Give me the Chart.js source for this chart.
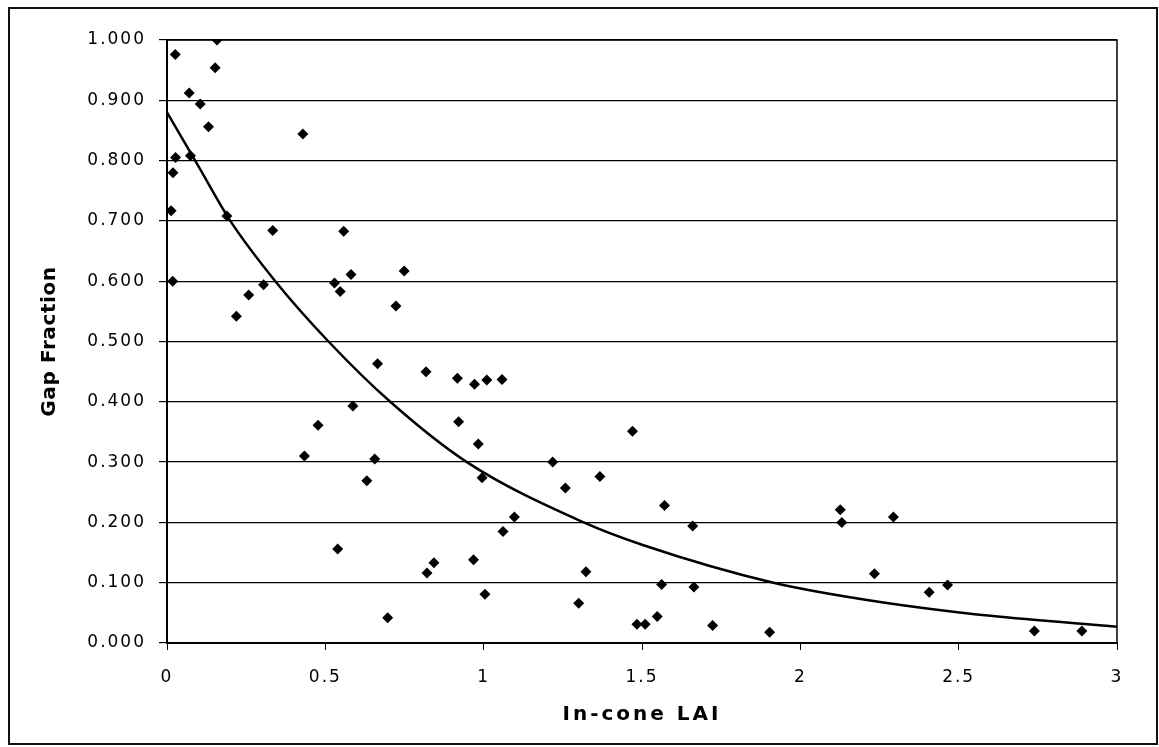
<!DOCTYPE html>
<html>
<head>
<meta charset="utf-8">
<script src="https://cdn.jsdelivr.net/npm/chart.js@4.4.1/dist/chart.umd.min.js"></script>
<style>
  html, body { margin: 0; padding: 0; background: #fff; }
  canvas { display: block; }
</style>
</head>
<body>
<canvas id="gap" width="1159" height="747"></canvas>
<script>
// Measured in-cone LAI vs gap fraction
const laiValues = [
  0.026, 0.158, 0.152, 0.070, 0.105, 0.131, 0.429, 0.027, 0.074, 0.019,
  0.013, 0.189, 0.334, 0.558, 0.018, 0.581, 0.749, 0.305, 0.258, 0.529,
  0.547, 0.723, 0.219, 0.665, 0.818, 0.917, 0.587, 0.477, 0.921, 0.434,
  0.656, 0.631, 0.539, 0.843, 0.821, 0.971, 1.010, 1.058, 0.983, 1.470,
  1.218, 0.995, 1.367, 1.258, 1.571, 1.097, 1.660, 1.061, 0.968, 1.323,
  1.562, 1.664, 1.004, 0.697, 1.300, 2.126, 2.131, 2.294, 2.234, 2.407,
  2.465, 1.484, 1.510, 1.548, 1.723, 1.903, 2.739, 2.889
];
const gapValues = [
  0.976, 1.000, 0.954, 0.912, 0.894, 0.856, 0.844, 0.805, 0.808, 0.780,
  0.717, 0.708, 0.684, 0.683, 0.600, 0.611, 0.617, 0.594, 0.577, 0.597,
  0.583, 0.559, 0.542, 0.463, 0.450, 0.439, 0.393, 0.361, 0.367, 0.310,
  0.305, 0.269, 0.156, 0.133, 0.116, 0.429, 0.436, 0.437, 0.330, 0.351,
  0.300, 0.274, 0.276, 0.257, 0.228, 0.209, 0.194, 0.185, 0.138, 0.118,
  0.097, 0.093, 0.081, 0.042, 0.066, 0.221, 0.200, 0.209, 0.115, 0.084,
  0.096, 0.031, 0.031, 0.044, 0.029, 0.018, 0.020, 0.020
];

// Fitted decay curve
const fitLai = [0, 0.1, 0.2, 0.342, 0.51, 0.705, 0.947, 1.316, 1.5, 1.915, 2.252, 2.6, 3.0];
const fitGap = [0.880, 0.790, 0.700, 0.600, 0.500, 0.400, 0.300, 0.200, 0.163, 0.100, 0.068, 0.045, 0.027];

const xTitle = "In-cone LAI";
const yTitle = "Gap Fraction";

const FONT = "'DejaVu Sans', Verdana, sans-serif";

const points = laiValues.map((x, i) => ({ x: x, y: gapValues[i] }));
const fit = fitLai.map((x, i) => ({ x: x, y: fitGap[i] }));

// frame, plot box and the two axis titles
const decorations = {
  id: "decorations",
  beforeDraw(chart) {
    chart.ctx.letterSpacing = "2px";
  },
  beforeDatasetsDraw(chart) {
    const { ctx, chartArea: a } = chart;
    ctx.save();
    ctx.strokeStyle = "#000";
    ctx.lineWidth = 1.5;
    ctx.strokeRect(a.left, a.top, a.right - a.left, a.bottom - a.top);
    ctx.restore();
  },
  afterDraw(chart) {
    const { ctx, chartArea: a } = chart;
    ctx.save();
    ctx.strokeStyle = "#111";
    ctx.lineWidth = 2;
    ctx.strokeRect(9, 8, 1148, 736);

    ctx.fillStyle = "#000";
    ctx.font = "bold 20px " + FONT;
    ctx.letterSpacing = "3px";
    ctx.textAlign = "center";
    ctx.textBaseline = "middle";
    ctx.fillText(xTitle, (a.left + a.right) / 2, 715);

    ctx.translate(50, (a.top + a.bottom) / 2);
    ctx.rotate(-Math.PI / 2);
    ctx.letterSpacing = "0.6px";
    ctx.fillText(yTitle, 0, 0);
    ctx.restore();
  }
};

new Chart(document.getElementById("gap"), {
  type: "scatter",
  data: {
    datasets: [
      {
        data: points,
        pointStyle: "rectRot",
        pointRadius: 5.5,
        pointBackgroundColor: "#000",
        pointBorderWidth: 0,
        showLine: false
      },
      {
        type: "line",
        data: fit,
        borderColor: "#000",
        borderWidth: 2.5,
        pointRadius: 0,
        fill: false,
        cubicInterpolationMode: "monotone"
      }
    ]
  },
  options: {
    responsive: false,
    animation: false,
    layout: { padding: { left: 0, right: 42, top: 40, bottom: 0 } },
    plugins: {
      legend: { display: false },
      tooltip: { enabled: false }
    },
    scales: {
      x: {
        type: "linear",
        min: 0,
        max: 3,
        ticks: {
          stepSize: 0.5,
          color: "#000",
          padding: 17,
          font: { family: FONT, size: 17 },
          maxRotation: 0,
          callback: (v) => String(v)
        },
        grid: { drawOnChartArea: false, drawTicks: true, tickLength: 7, color: "#000" },
        border: { color: "#000", width: 2 },
        afterFit: (s) => { s.height = 104; }
      },
      y: {
        min: 0,
        max: 1,
        ticks: {
          stepSize: 0.1,
          color: "#000",
          padding: 13,
          font: { family: FONT, size: 17 },
          callback: (v) => v.toFixed(3)
        },
        grid: { color: "#000", lineWidth: 1.2, tickLength: 8 },
        border: { color: "#000", width: 2 },
        afterFit: (s) => { s.width = 167; }
      }
    }
  },
  plugins: [decorations]
});
</script>
</body>
</html>
